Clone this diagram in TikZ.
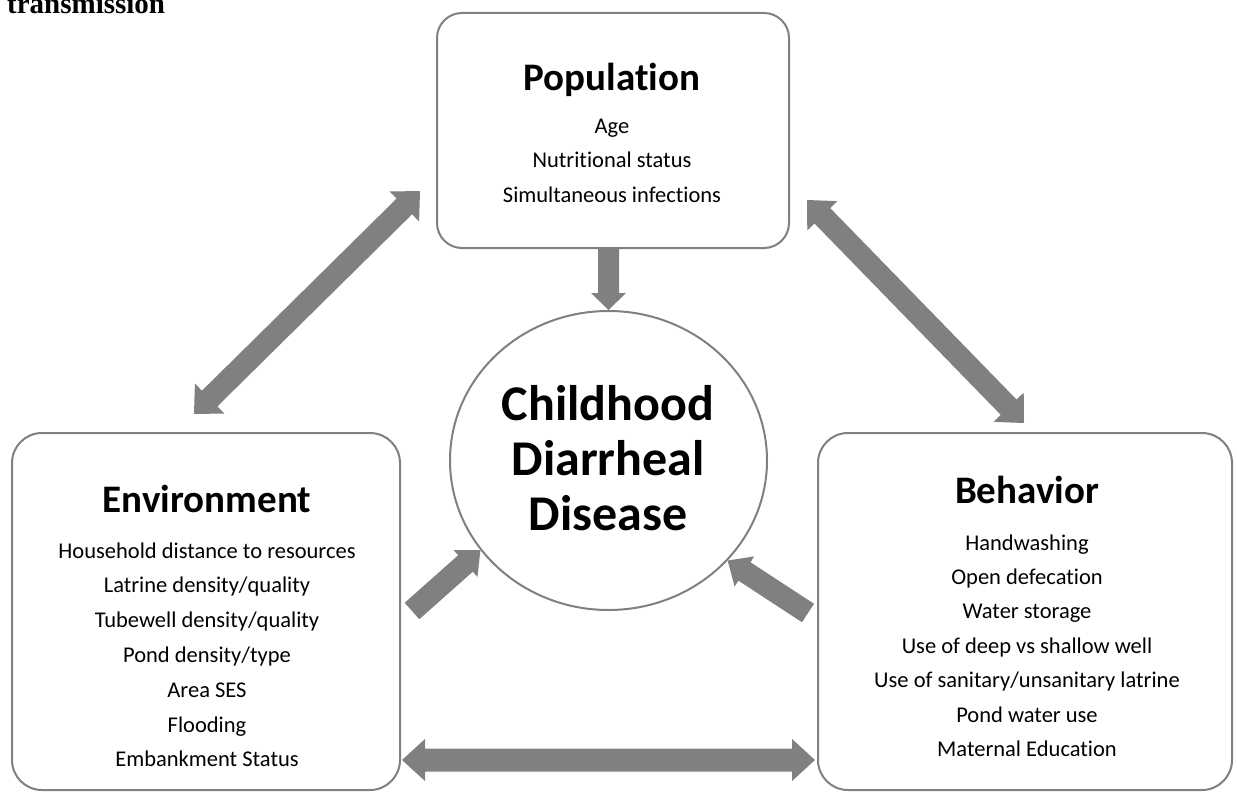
\documentclass[tikz,border=0pt]{standalone}
\usepackage{fontspec}
\setmainfont{Carlito}[Ligatures=NoCommon]
\newfontfamily\headserif{Liberation Serif}
\usetikzlibrary{calc,shapes.geometric}
\definecolor{linegray}{HTML}{808080}
\definecolor{arrowgray}{HTML}{808080}
\tikzset{
  boxshape/.style={draw=linegray, line width=2pt, fill=white, rectangle, inner sep=0pt},
  titletext/.style={anchor=base, inner sep=0pt, font=\fontsize{39}{44}\selectfont\bfseries},
  itemtext/.style={anchor=base, inner sep=0pt, font=\fontsize{22.5}{26}\selectfont},
  centertext/.style={anchor=base, inner sep=0pt, font=\fontsize{50}{55}\selectfont\bfseries},
  arrowfill/.style={fill=arrowgray},
}
% single block arrow: #1 from, #2 to, #3 shaft half-width, #4 head half-width, #5 head length
\newcommand\singlearrow[5]{%
  \coordinate (saN) at ($(#2)!#5!(#1)$);
  \fill[arrowfill] ($(#1)!#3!90:(#2)$) -- ($(saN)!#3!90:(#2)$) -- ($(saN)!#4!90:(#2)$)
    -- (#2) -- ($(saN)!#4!-90:(#2)$) -- ($(saN)!#3!-90:(#2)$) -- ($(#1)!#3!-90:(#2)$) -- cycle;
}
% double block arrow
\newcommand\doublearrow[5]{%
  \coordinate (daN1) at ($(#1)!#5!(#2)$);
  \coordinate (daN2) at ($(#2)!#5!(#1)$);
  \fill[arrowfill] (#1) -- ($(daN1)!#4!90:(#2)$) -- ($(daN1)!#3!90:(#2)$)
    -- ($(daN2)!#3!90:(#2)$) -- ($(daN2)!#4!90:(#2)$) -- (#2)
    -- ($(daN2)!#4!-90:(#2)$) -- ($(daN2)!#3!-90:(#2)$)
    -- ($(daN1)!#3!-90:(#2)$) -- ($(daN1)!#4!-90:(#2)$) -- cycle;
}
\begin{document}
\begin{tikzpicture}[x=1pt,y=-1pt]
\useasboundingbox[fill=white] (0,0) rectangle (1237,792);

% heading fragment
\node[anchor=base west, inner sep=0pt, font=\headserif\fontsize{29}{32}\selectfont\bfseries] (heading) at (7,14) {transmission};

% boxes
\node[boxshape, rounded corners=25pt, minimum width=352pt, minimum height=235pt] (pop) at (613,130.5) {};
\node[boxshape, rounded corners=30pt, minimum width=388pt, minimum height=357pt] (env) at (206,611.5) {};
\node[boxshape, rounded corners=30pt, minimum width=414pt, minimum height=357pt] (beh) at (1025,611.5) {};
\node[draw=linegray, line width=2pt, fill=white, ellipse, inner sep=0pt, minimum width=317pt, minimum height=299pt] (dis) at (608.5,460.5) {};

% population text
\node[titletext] (popT) at (612,90) {Population};
\node[itemtext] (pop1) at (612,133) {Age};
\node[itemtext] (pop2) at (612,167) {Nutritional status};
\node[itemtext] (pop3) at (612,202) {Simultaneous infections};

% centre text
\node[centertext] (dis1) at (608,420) {Childhood};
\node[centertext] (dis2) at (608,475) {Diarrheal};
\node[centertext] (dis3) at (608,530) {Disease};

% environment text
\node[titletext] (envT) at (207,512) {Environment};
\node[itemtext] (env1) at (207,558) {Household distance to resources};
\node[itemtext] (env2) at (207,592) {Latrine density/quality};
\node[itemtext] (env3) at (207,627) {Tubewell density/quality};
\node[itemtext] (env4) at (207,662) {Pond density/type};
\node[itemtext] (env5) at (207,697) {Area SES};
\node[itemtext] (env6) at (207,732) {Flooding};
\node[itemtext] (env7) at (207,766) {Embankment Status};

% behavior text
\node[titletext] (behT) at (1027,503) {Behavior};
\node[itemtext] (beh1) at (1027,550) {Handwashing};
\node[itemtext] (beh2) at (1027,584) {Open defecation};
\node[itemtext] (beh3) at (1027,618) {Water storage};
\node[itemtext] (beh4) at (1027,653) {Use of deep vs shallow well};
\node[itemtext] (beh5) at (1027,687) {Use of sanitary/unsanitary latrine};
\node[itemtext] (beh6) at (1027,722) {Pond water use};
\node[itemtext] (beh7) at (1027,756) {Maternal Education};

% connector end points
\coordinate (downTail) at (dis.north |- pop.south);
\coordinate (tlA) at (194,414);
\coordinate (tlB) at (420,191);
\coordinate (trA) at (807,200);
\coordinate (trB) at (1024,423);
\coordinate (botA) at (402,760);
\coordinate (botB) at (815,760);
\coordinate (llTail) at (412,611);
\coordinate (lrTail) at (808,613);

% arrows
\singlearrow{downTail}{dis.north}{10.5pt}{17.5pt}{17pt}
\singlearrow{llTail}{dis.215}{11pt}{18pt}{20pt}
\singlearrow{lrTail}{dis.-40.5}{11pt}{18pt}{20pt}
\doublearrow{tlA}{tlB}{11pt}{21pt}{22pt}
\doublearrow{trA}{trB}{11pt}{21pt}{22pt}
\doublearrow{botA}{botB}{11.5pt}{21pt}{23pt}
\end{tikzpicture}
\end{document}
